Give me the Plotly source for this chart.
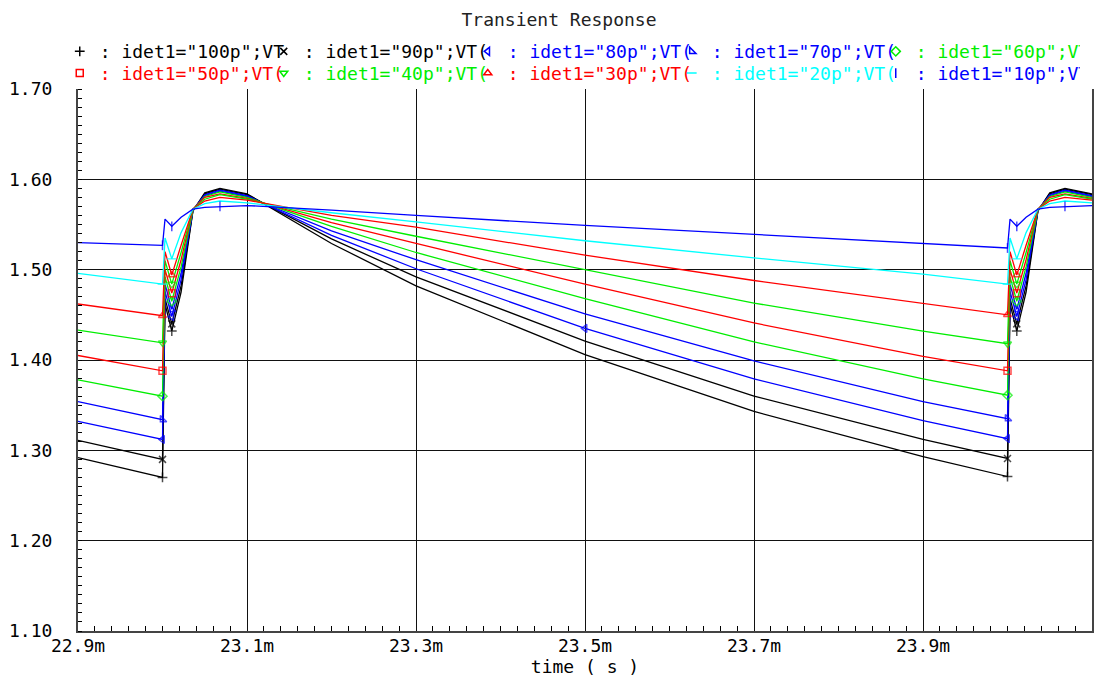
import plotly.graph_objects as go

# time axis in ms
time_ms = [22.900, 23.000, 23.003, 23.011, 23.022, 23.036, 23.050, 23.068, 23.100,
           23.200, 23.300, 23.500, 23.700, 23.900,
           24.000, 24.003, 24.011, 24.022, 24.036, 24.050, 24.068, 24.100]

labels = ['idet1="100p";VT', 'idet1="90p";VT(', 'idet1="80p";VT(', 'idet1="70p";VT(',
          'idet1="60p";VT(', 'idet1="50p";VT(', 'idet1="40p";VT(', 'idet1="30p";VT(',
          'idet1="20p";VT(', 'idet1="10p";VT(']

v_100p = [1.292, 1.270, 1.462, 1.432, 1.475, 1.565, 1.585, 1.590, 1.584, 1.529, 1.482, 1.406, 1.343, 1.293,
          1.271, 1.462, 1.432, 1.475, 1.565, 1.585, 1.590, 1.584]
v_90p = [1.311, 1.290, 1.468, 1.440, 1.482, 1.565, 1.584, 1.589, 1.583, 1.534, 1.492, 1.421, 1.360, 1.312,
         1.291, 1.468, 1.440, 1.482, 1.565, 1.584, 1.589, 1.583]
v_80p = [1.332, 1.312, 1.476, 1.448, 1.489, 1.566, 1.583, 1.588, 1.582, 1.538, 1.501, 1.435, 1.379, 1.333,
         1.313, 1.476, 1.448, 1.489, 1.566, 1.583, 1.588, 1.582]
v_70p = [1.354, 1.334, 1.484, 1.456, 1.496, 1.566, 1.582, 1.587, 1.581, 1.543, 1.511, 1.451, 1.399, 1.354,
         1.335, 1.484, 1.456, 1.496, 1.566, 1.582, 1.587, 1.581]
v_60p = [1.378, 1.360, 1.492, 1.465, 1.503, 1.566, 1.581, 1.586, 1.580, 1.548, 1.519, 1.468, 1.420, 1.379,
         1.361, 1.492, 1.465, 1.503, 1.566, 1.581, 1.586, 1.580]
v_50p = [1.405, 1.388, 1.500, 1.474, 1.511, 1.567, 1.580, 1.584, 1.579, 1.552, 1.529, 1.484, 1.441, 1.404,
         1.388, 1.500, 1.474, 1.511, 1.567, 1.580, 1.584, 1.579]
v_40p = [1.433, 1.419, 1.510, 1.484, 1.519, 1.567, 1.578, 1.583, 1.578, 1.556, 1.537, 1.500, 1.463, 1.432,
         1.418, 1.510, 1.484, 1.519, 1.567, 1.578, 1.583, 1.578]
v_30p = [1.462, 1.449, 1.520, 1.494, 1.527, 1.567, 1.576, 1.580, 1.577, 1.560, 1.547, 1.516, 1.488, 1.463,
         1.450, 1.520, 1.494, 1.527, 1.567, 1.576, 1.580, 1.577]
v_20p = [1.496, 1.484, 1.535, 1.512, 1.541, 1.567, 1.573, 1.576, 1.574, 1.563, 1.553, 1.532, 1.513, 1.495,
         1.484, 1.535, 1.512, 1.541, 1.567, 1.573, 1.576, 1.574]
v_10p = [1.530, 1.527, 1.556, 1.548, 1.558, 1.567, 1.569, 1.570, 1.571, 1.566, 1.560, 1.549, 1.539, 1.529,
         1.524, 1.556, 1.548, 1.558, 1.567, 1.569, 1.570, 1.571]

series = [v_100p, v_90p, v_80p, v_70p, v_60p, v_50p, v_40p, v_30p, v_20p, v_10p]
colors = ['#000000', '#000000', '#0000ff', '#0000ff', '#00ee00',
          '#ff0000', '#00ee00', '#ff0000', '#00ffff', '#0000ff']
symbols = ['cross-thin-open', 'x-thin-open', 'triangle-left-open', 'triangle-sw-open', 'diamond-open',
           'square-open', 'triangle-down-open', 'triangle-up-open', 'line-ew-open', 'line-ns-open']
marker_idx = [[1, 3, 14, 16]] * 10
marker_idx[2] = [1, 3, 11, 14, 16]
marker_idx[9] = [1, 3, 7, 14, 16, 20]

FONT = 'DejaVu Sans Mono'
fig = go.Figure()

for i, (vals, col, sym) in enumerate(zip(series, colors, symbols)):
    sizes = [7 if k in marker_idx[i] else 0 for k in range(len(time_ms))]
    fig.add_trace(go.Scatter(
        x=time_ms, y=vals, mode='lines+markers', showlegend=False,
        line=dict(color=col, width=1.3),
        marker=dict(symbol=sym, size=sizes, color=col, line=dict(color=col, width=1.5)),
    ))

for i, (lab, col, sym) in enumerate(zip(labels, colors, symbols)):
    fig.add_trace(go.Scatter(
        x=[None], y=[None], mode='markers',
        name='<span style="color:%s">: %s</span>' % (col, lab),
        legend='legend' if i < 5 else 'legend2',
        marker=dict(symbol=sym, size=7, color=col, line=dict(color=col, width=1.5)),
    ))

leg_common = dict(orientation='h', xanchor='left', yanchor='top',
                  entrywidth=159, entrywidthmode='pixels', itemwidth=30,
                  font=dict(family=FONT, size=18), bgcolor='rgba(0,0,0,0)',
                  traceorder='normal')

fig.update_layout(
    width=1118, height=679,
    margin=dict(l=78, r=26, t=89, b=48, autoexpand=False),
    paper_bgcolor='white', plot_bgcolor='white',
    font=dict(family=FONT, size=18, color='#000000'),
    title=dict(text='Transient Response', x=0.5, xanchor='center', y=0.981, yanchor='top',
               font=dict(family=FONT, size=18, color='#222222')),
    legend=dict(x=-0.018, y=1.103, **leg_common),
    legend2=dict(x=-0.018, y=1.063, **leg_common),
    xaxis=dict(range=[22.9, 24.1], tick0=22.9, dtick=0.2, tickformat='.1f', ticksuffix='m',
               showgrid=True, gridcolor='#111111', gridwidth=1, zeroline=False,
               showline=True, linecolor='#444444', linewidth=2, mirror=False,
               ticks='', ticklabelstandoff=-3,
               minor=dict(dtick=0.02, tick0=22.9, ticks='inside', ticklen=5, tickcolor='#000000',
                          showgrid=False),
               title=dict(text='time ( s )', standoff=4, font=dict(family=FONT, size=18))),
    yaxis=dict(range=[1.1, 1.7], tick0=1.1, dtick=0.1, tickformat='.2f',
               showgrid=True, gridcolor='#111111', gridwidth=1, zeroline=False,
               showline=True, linecolor='#444444', linewidth=2, mirror=True,
               ticks='outside', ticklen=20, tickcolor='rgba(0,0,0,0)',
               minor=dict(dtick=0.01, tick0=1.1, ticks='inside', ticklen=4, tickcolor='#000000',
                          showgrid=False)),
)

fig.write_html('out.html', config={'displayModeBar': False},
               post_script="document.body.style.margin='0';")
